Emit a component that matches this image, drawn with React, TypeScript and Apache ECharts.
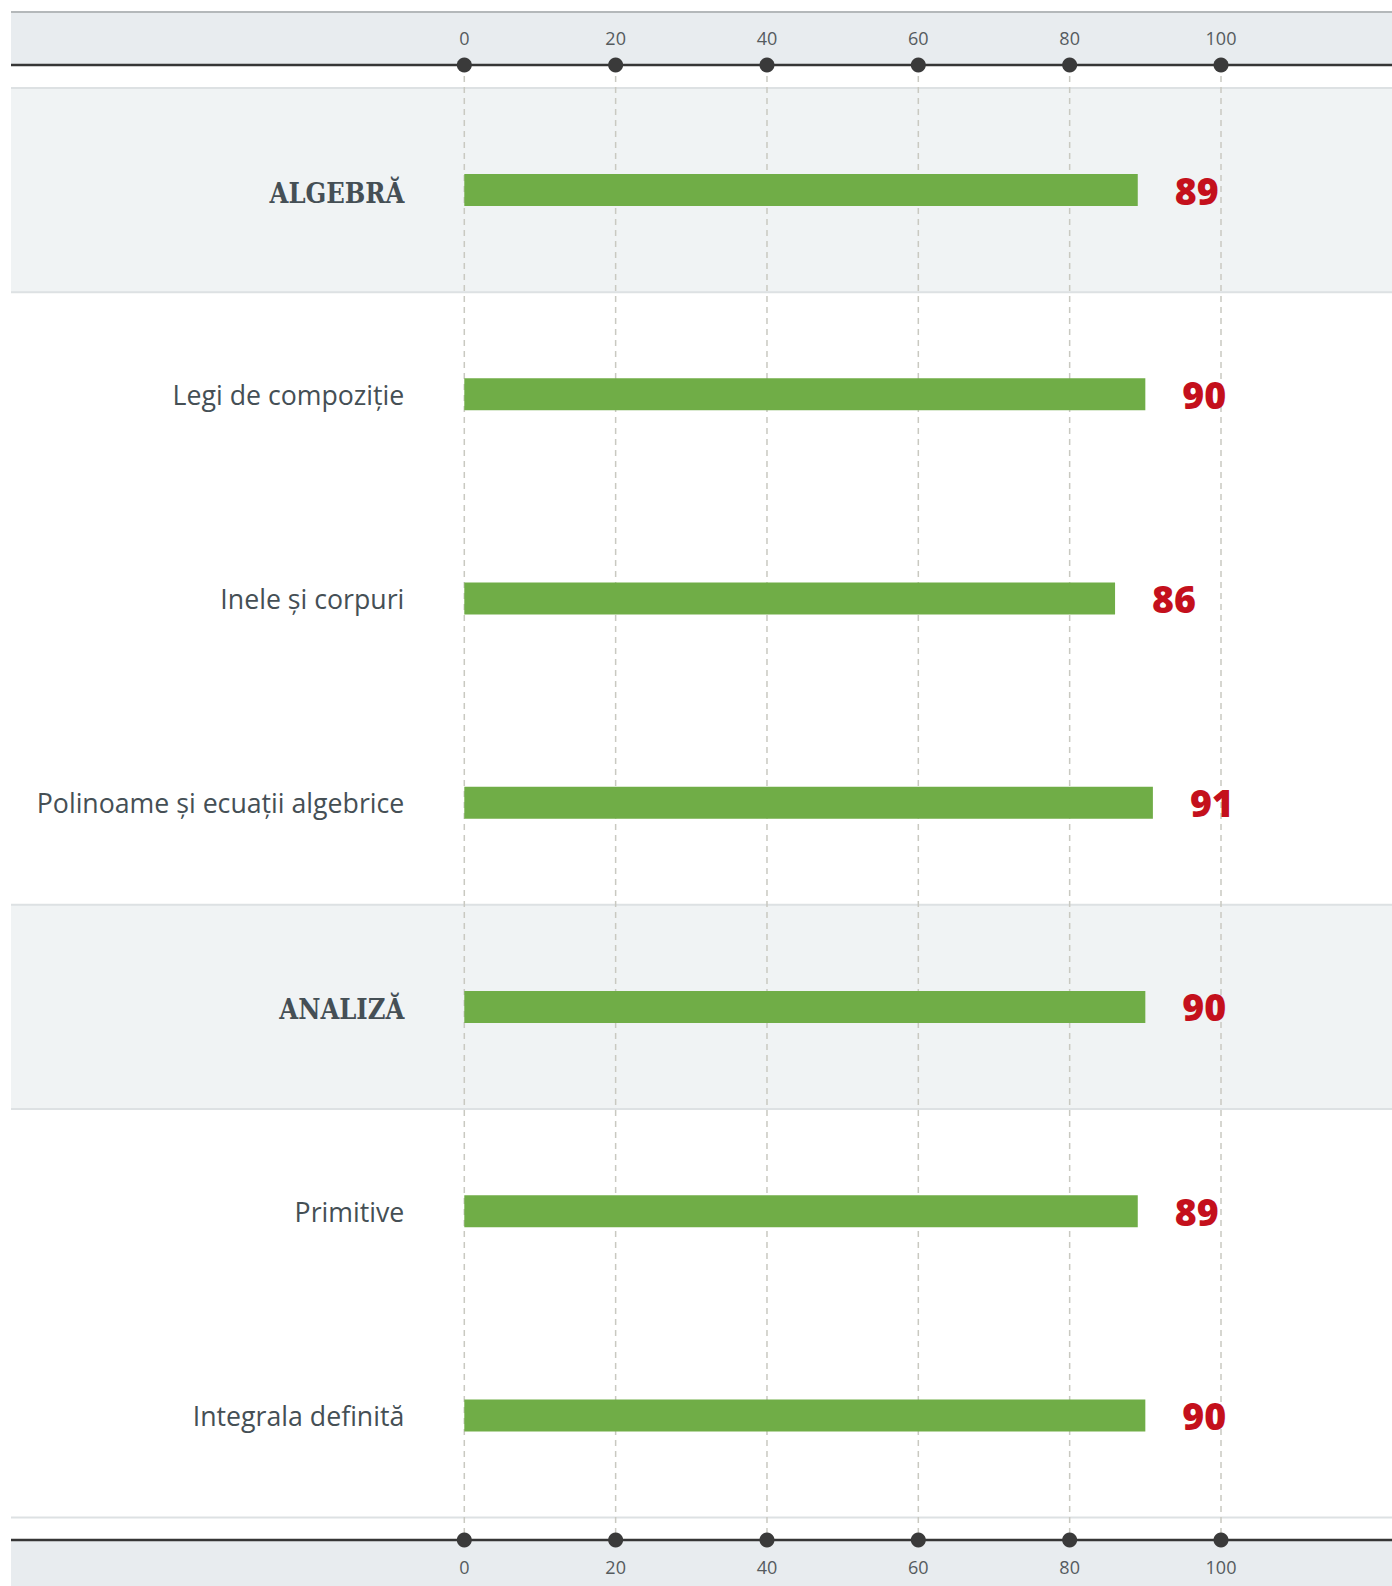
import React, { useEffect, useRef } from "react";
import * as echarts from "echarts";

const categories = [
  "ALGEBRĂ",
  "Legi de compoziție",
  "Inele și corpuri",
  "Polinoame și ecuații algebrice",
  "ANALIZĂ",
  "Primitive",
  "Integrala definită",
];
const values = [89, 90, 86, 91, 90, 89, 90];
const headerRows = ["ALGEBRĂ", "ANALIZĂ"];
const tickValues = [0, 20, 40, 60, 80, 100];

const W = 1392;
const H = 1586;

export default function App() {
  const ref = useRef<HTMLDivElement>(null);
  useEffect(() => {
    document.body.style.margin = "0";
    document.body.style.overflow = "hidden";
    const chart = echarts.init(ref.current!, null, { renderer: "svg" });
    const axisLabel = {
      margin: 18,
      fontSize: 18,
      color: "#555b5e",
      fontFamily: "Open Sans",
    };
    chart.setOption({
      animation: false,
      grid: { left: 464.3, right: 171, top: 88, bottom: 68.5, containLabel: false },
      xAxis: [
        {
          type: "value",
          position: "top",
          offset: 23,
          min: 0,
          max: 100,
          interval: 20,
          axisLine: { show: false },
          axisTick: { show: false },
          splitLine: { show: false },
          axisLabel,
        },
        {
          type: "value",
          position: "bottom",
          offset: 22.5,
          min: 0,
          max: 100,
          interval: 20,
          axisLine: { show: false },
          axisTick: { show: false },
          splitLine: { show: false },
          axisLabel,
        },
      ],
      yAxis: {
        type: "category",
        data: categories,
        inverse: true,
        axisLine: { show: false },
        axisTick: { show: false },
        splitLine: { show: false },
        axisLabel: {
          margin: 60,
          formatter: (v: string) => (headerRows.includes(v) ? `{h|${v}}` : `{n|${v}}`),
          rich: {
            h: {
              fontFamily: "'DejaVu Serif Condensed', 'DejaVu Serif'",
              fontWeight: "bold",
              fontSize: 27,
              color: "#454f55",
              padding: [6, 0, 0, 0],
            },
            n: {
              fontFamily: "Open Sans",
              fontSize: 26.7,
              color: "#454f55",
            },
          },
        },
      },
      series: [
        {
          type: "bar",
          xAxisIndex: 0,
          data: values,
          barWidth: 32,
          itemStyle: { color: "#70ad47" },
          label: {
            show: true,
            position: "right",
            distance: 37,
            fontFamily: "Open Sans",
            fontWeight: 800,
            fontSize: 37.5,
            color: "#c4101c",
          },
        },
      ],
    });

    const px = (v: number) => chart.convertToPixel({ xAxisIndex: 0 }, v) as number;
    const py = (c: string) => chart.convertToPixel({ yAxisIndex: 0 }, c) as number;
    const rowH = py(categories[1]) - py(categories[0]);
    const gridTop = py(categories[0]) - rowH / 2;
    const gridBottom = py(categories[categories.length - 1]) + rowH / 2;
    const topAxisY = gridTop - 23;
    const bottomAxisY = gridBottom + 22.5;
    const x0 = 11;

    const elements: any[] = [];
    elements.push({
      type: "rect",
      z: -10,
      shape: { x: x0, y: 12, width: W - x0, height: topAxisY - 12 },
      style: { fill: "#e8ecef" },
    });
    elements.push({
      type: "line",
      z: -9,
      shape: { x1: x0, y1: 12, x2: W, y2: 12 },
      style: { stroke: "#b4b8ba", lineWidth: 2 },
    });
    elements.push({
      type: "rect",
      z: -10,
      shape: { x: x0, y: bottomAxisY, width: W - x0, height: H - bottomAxisY },
      style: { fill: "#e8ecef" },
    });
    headerRows.forEach((c) => {
      const yc = py(c);
      elements.push({
        type: "rect",
        z: -10,
        shape: { x: x0, y: yc - rowH / 2, width: W - x0, height: rowH },
        style: { fill: "#f0f3f4" },
      });
      [yc - rowH / 2, yc + rowH / 2].forEach((y) =>
        elements.push({
          type: "line",
          z: -8,
          shape: { x1: x0, y1: y, x2: W, y2: y },
          style: { stroke: "#dde1e3", lineWidth: 2 },
        })
      );
    });
    elements.push({
      type: "line",
      z: -8,
      shape: { x1: x0, y1: gridBottom, x2: W, y2: gridBottom },
      style: { stroke: "#dde1e3", lineWidth: 2 },
    });
    tickValues.forEach((t) => {
      const x = px(t);
      elements.push({
        type: "line",
        z: -5,
        shape: { x1: x, y1: topAxisY, x2: x, y2: bottomAxisY },
        style: { stroke: "#c9c9c1", lineWidth: 1.5, lineDash: [6, 5] },
      });
    });
    [topAxisY, bottomAxisY].forEach((y) => {
      elements.push({
        type: "line",
        z: 9,
        shape: { x1: x0, y1: y, x2: W, y2: y },
        style: { stroke: "#363636", lineWidth: 2.5 },
      });
      tickValues.forEach((t) => {
        elements.push({
          type: "circle",
          z: 10,
          shape: { cx: px(t), cy: y, r: 7.5 },
          style: { fill: "#3a3a3a" },
        });
      });
    });

    chart.setOption({ graphic: { elements } });

    return () => chart.dispose();
  }, []);

  return <div ref={ref} style={{ width: W, height: H }} />;
}
